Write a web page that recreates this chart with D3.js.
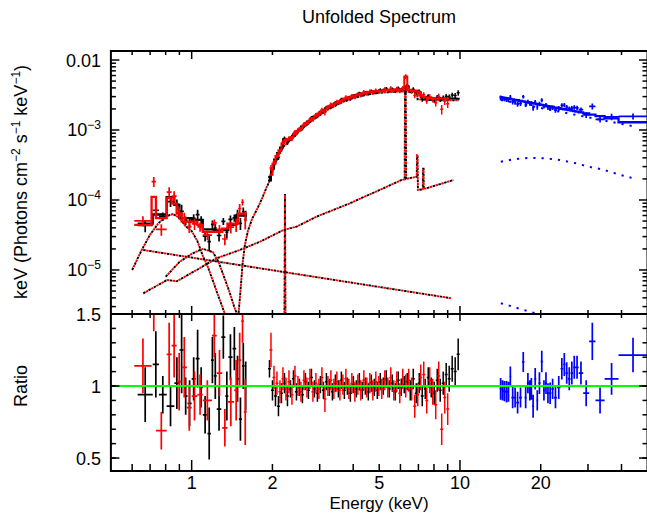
<!DOCTYPE html>
<html><head><meta charset="utf-8">
<script src="https://cdn.jsdelivr.net/npm/d3@7/dist/d3.min.js"></script>
<style>body{margin:0;background:#fff}svg{display:block}text{font-family:"Liberation Sans",Arial,Helvetica,sans-serif;fill:#000}</style>
</head><body><svg id="c" width="647" height="513"></svg>
<script>
// ---------------- DATA ----------------
const xDomain = [0.5, 50];
const yTopDomain = [2.35e-6, 1.345e-2];
const ratioDomain = [0.41, 1.5];

const xMajorTicks = [1, 10];
const xMinorTicks = [0.6,0.7,0.8,0.9,2,3,4,5,6,7,8,9,20,30,40];
const xTickLabels = [1, 2, 5, 10, 20];
const yTopLabelValues = [1e-2, 1e-3, 1e-4, 1e-5];
const ratioMinorTicks = [0.5,0.6,0.7,0.8,0.9,1.0,1.1,1.2,1.3,1.4,1.5];
const ratioLabelValues = [0.5, 1, 1.5];

// XMM black 2-10 keV bins
const blackHiE = [1.950,2.001,2.053,2.106,2.161,2.218,2.275,2.335,2.395,2.458,2.522,2.587,2.655,2.724,2.795,2.868,2.942,3.019,3.098,3.178,3.261,3.346,3.433,3.522,3.614,3.708,3.805,3.904,4.005,4.110,4.217,4.326,4.439,4.555,4.673,4.795,4.920,5.048,5.179,5.314,5.453,5.595,5.740,5.890,6.043,6.200,6.362,6.527,6.697,6.872,7.051,7.234,7.423,7.616,7.814,8.018,8.226,8.441,8.660,8.886,9.117,9.355,9.598,9.848];
const blackHiModel = [1.9e-4,2.8e-4,3.8e-4,4.7e-4,5.6e-4,7.4e-4,7.1e-4,7.6e-4,8.3e-4,9.3e-4,1.02e-3,1.12e-3,1.20e-3,1.32e-3,1.41e-3,1.55e-3,1.66e-3,1.78e-3,1.91e-3,2.04e-3,2.16e-3,2.29e-3,2.40e-3,2.51e-3,2.63e-3,2.75e-3,2.85e-3,2.95e-3,3.05e-3,3.16e-3,3.24e-3,3.31e-3,3.39e-3,3.47e-3,3.51e-3,3.55e-3,3.59e-3,3.63e-3,3.67e-3,3.72e-3,3.72e-3,3.76e-3,3.76e-3,3.80e-3,3.80e-3,3.80e-3,4.2e-3,3.72e-3,3.63e-3,3.63e-3,3.47e-3,2.95e-3,2.95e-3,2.88e-3,2.85e-3,2.82e-3,2.82e-3,2.82e-3,2.82e-3,2.82e-3,2.82e-3,2.82e-3,2.82e-3,2.79e-3];
const blackHiRatio = [1.12,0.97,0.93,0.86,0.95,1.02,0.93,0.98,1.05,0.96,0.99,0.94,1.03,0.97,1.06,0.98,0.95,1.01,0.97,1.03,0.99,0.96,1.02,0.98,1.04,0.97,1.00,0.95,1.01,0.98,1.03,0.97,1.00,0.96,1.02,0.99,0.97,1.03,1.00,1.05,0.98,1.02,0.96,1.04,0.99,1.01,1.03,0.97,1.05,0.95,1.02,0.93,0.98,1.06,0.99,0.95,1.04,0.97,1.02,1.08,1.05,1.12,1.10,1.22];
const blackHiErr = [0.06,0.07,0.07,0.07,0.07,0.07,0.07,0.06,0.06,0.06,0.06,0.06,0.06,0.06,0.06,0.06,0.06,0.06,0.06,0.06,0.06,0.06,0.06,0.06,0.06,0.06,0.06,0.06,0.06,0.06,0.06,0.06,0.06,0.06,0.06,0.06,0.06,0.06,0.06,0.06,0.06,0.06,0.06,0.06,0.06,0.06,0.06,0.07,0.07,0.07,0.07,0.07,0.07,0.07,0.07,0.08,0.08,0.08,0.08,0.08,0.09,0.09,0.10,0.11];

// XMM red 2-9 keV bins
const redHiE = [1.975,2.027,2.079,2.133,2.189,2.246,2.305,2.365,2.426,2.490,2.554,2.621,2.689,2.759,2.831,2.905,2.980,3.058,3.138,3.219,3.303,3.389,3.477,3.568,3.661,3.756,3.854,3.954,4.057,4.163,4.271,4.382,4.497,4.614,4.734,4.857,4.984,5.113,5.246,5.383,5.523,5.667,5.815,5.966,6.121,6.281,6.444,6.611,6.784,6.960,7.142,7.328,7.519,7.715,7.916,8.122,8.333,8.550,8.773,9.001];
const redHiModel = [2.3e-4,3.3e-4,4.25e-4,5.15e-4,6.4e-4,7.3e-4,7.35e-4,7.95e-4,8.8e-4,9.75e-4,1.07e-3,1.16e-3,1.26e-3,1.36e-3,1.48e-3,1.60e-3,1.72e-3,1.84e-3,1.97e-3,2.10e-3,2.22e-3,2.34e-3,2.45e-3,2.57e-3,2.69e-3,2.80e-3,2.90e-3,3.00e-3,3.10e-3,3.20e-3,3.27e-3,3.35e-3,3.43e-3,3.49e-3,3.53e-3,3.57e-3,3.61e-3,3.65e-3,3.69e-3,3.72e-3,3.74e-3,3.76e-3,3.78e-3,3.80e-3,3.80e-3,5.8e-3,3.74e-3,3.66e-3,3.63e-3,3.55e-3,3.10e-3,2.95e-3,2.92e-3,2.87e-3,2.84e-3,2.82e-3,2.82e-3,2.82e-3,2.82e-3,2.82e-3];
const redHiRatio = [1.25,1.06,1.02,0.96,1.05,0.98,1.03,0.94,1.07,1.00,0.96,1.04,0.99,1.05,0.96,1.02,0.98,1.06,0.91,1.00,1.04,0.98,1.03,0.97,1.01,1.05,0.98,1.02,0.96,1.01,0.97,1.04,0.99,1.02,0.97,1.03,1.00,0.98,1.04,0.99,1.06,0.97,1.03,0.95,1.05,1.00,1.04,0.98,0.86,0.94,1.06,1.08,0.90,1.04,0.96,0.87,1.07,0.70,0.92,0.84];
const redHiErr = [0.12,0.08,0.08,0.08,0.08,0.08,0.08,0.07,0.07,0.07,0.07,0.07,0.07,0.07,0.07,0.07,0.07,0.07,0.09,0.07,0.07,0.07,0.07,0.07,0.07,0.07,0.07,0.07,0.07,0.07,0.07,0.07,0.07,0.07,0.07,0.07,0.07,0.07,0.07,0.07,0.07,0.07,0.07,0.07,0.07,0.08,0.08,0.08,0.08,0.08,0.09,0.09,0.09,0.09,0.09,0.10,0.10,0.11,0.11,0.11];

// XMM soft band bins
const blackLoEdges = [0.629,0.716,0.755,0.807,0.862,0.90,0.935,0.965,1.0,1.035,1.07,1.10,1.145,1.18,1.21,1.24,1.29,1.335,1.37,1.42,1.465,1.50,1.54,1.575,1.605];
const blackLoModel = [4.6e-5,6.2e-5,6.2e-5,1.1e-4,8.5e-5,5.5e-5,5.5e-5,5.5e-5,5.2e-5,5.2e-5,5.2e-5,3.8e-5,3.8e-5,3.8e-5,3.7e-5,3.7e-5,3.7e-5,3.7e-5,4.4e-5,4.4e-5,6.0e-5,6.0e-5,6.0e-5,6.0e-5];
const blackLoRatio = [0.94,1.15,0.94,0.86,1.02,1.25,0.93,0.88,1.05,1.19,0.99,0.80,0.67,1.18,1.07,0.84,1.34,0.93,1.20,1.26,1.05,0.77,1.14,1.00];
const blackLoErr = [0.19,0.23,0.13,0.14,0.18,0.30,0.13,0.16,0.15,0.20,0.14,0.13,0.18,0.16,0.16,0.15,0.15,0.17,0.16,0.15,0.16,0.15,0.16,0.17];
const redLoEdges = [0.611,0.709,0.736,0.807,0.842,0.879,0.918,0.96,1.0,1.05,1.10,1.19,1.24,1.30,1.36,1.44,1.49,1.53,1.565,1.603];
const redLoModel = [4.4e-5,1.11e-4,5.5e-5,1.06e-4,8.9e-5,6.4e-5,4.9e-5,4.9e-5,4.9e-5,4.4e-5,3.5e-5,3.5e-5,3.5e-5,3.9e-5,4.6e-5,4.6e-5,6.4e-5,6.4e-5,6.4e-5];
const redLoRatio = [1.14,1.65,0.69,1.22,1.28,1.03,1.13,0.85,0.93,0.94,0.90,1.35,1.09,0.71,0.89,0.97,1.18,1.45,0.82];
const redLoErr = [0.19,0.27,0.13,0.22,0.22,0.20,0.21,0.16,0.17,0.14,0.14,0.15,0.16,0.13,0.17,0.21,0.19,0.15,0.23];

// Hard X-ray (blue) bins
const blueEdges = [14.05,14.3,14.53,14.78,15.06,15.28,15.54,15.9,16.2,16.6,17.03,17.4,17.75,18.08,18.34,18.57,18.9,19.25,19.58,19.98,20.38,20.74,21.1,21.46,21.9,22.4,23.0,23.7,24.24,24.73,25.26,25.84,26.4,26.94,27.7,28.8,30.3,32.0,34.6,39.0,50.0];
const blueModel = [2.95e-3,2.91e-3,2.88e-3,2.84e-3,2.81e-3,2.79e-3,2.74e-3,2.69e-3,2.66e-3,2.60e-3,2.56e-3,2.52e-3,2.49e-3,2.46e-3,2.44e-3,2.41e-3,2.38e-3,2.35e-3,2.32e-3,2.28e-3,2.25e-3,2.22e-3,2.19e-3,2.17e-3,2.13e-3,2.09e-3,2.05e-3,2.01e-3,1.98e-3,1.95e-3,1.92e-3,1.89e-3,1.86e-3,1.83e-3,1.79e-3,1.73e-3,1.66e-3,1.58e-3,1.47e-3,1.29e-3];
const blueRatio = [0.98,0.97,0.965,0.96,0.96,1.065,0.92,0.92,0.885,0.92,1.167,0.92,1.02,0.97,0.98,0.86,1.05,0.90,1.02,1.17,0.97,1.02,0.95,0.95,0.98,0.92,0.99,1.12,1.15,1.09,1.05,1.09,1.13,1.13,1.09,0.95,1.31,0.90,1.05,1.215];
const blueErr = [0.075,0.07,0.07,0.075,0.07,0.07,0.075,0.07,0.075,0.07,0.07,0.075,0.07,0.07,0.075,0.08,0.075,0.07,0.075,0.075,0.07,0.075,0.07,0.075,0.07,0.075,0.08,0.075,0.08,0.075,0.08,0.08,0.08,0.08,0.08,0.09,0.13,0.09,0.11,0.12];

// Model components [E keV, value]
const compScatter = [[0.66,1.93e-5],[9.3,3.94e-6]];
const compRefl = [[0.66,4.64e-6],[0.81,7.2e-6],[0.88,6.9e-6],[1.044,1.0e-5],[1.24,1.47e-5],[1.51,1.93e-5],[1.80,2.54e-5],[2.20,3.73e-5],[2.46,4.16e-5],[2.92,5.78e-5],[3.89,8.97e-5],[5.18,1.47e-4],[6.06,1.93e-4],[6.22,1.96e-4],[6.24,3.6e-3],[6.28,3.6e-3],[6.30,2.0e-4],[6.90,2.15e-4],[6.92,4.4e-4],[6.95,4.4e-4],[6.97,1.39e-4],[7.27,1.42e-4],[7.28,2.8e-4],[7.32,2.8e-4],[7.33,1.45e-4],[7.5,1.47e-4],[9.45,1.93e-4]];
const compAbsPL = [[1.49,2.0e-6],[1.52,5e-6],[1.55,1.3e-5],[1.58,2.3e-5],[1.62,3.6e-5],[1.68,5.4e-5],[1.75,7.3e-5],[1.82,1.0e-4],[1.9,1.5e-4],[1.95,1.85e-4],[2.0,2.55e-4],[2.05,3.4e-4],[2.1,4.3e-4],[2.2,5.8e-4],[2.35,7.3e-4],[2.5,9.4e-4],[2.8,1.35e-3],[3.2,1.92e-3],[3.6,2.45e-3],[4.0,2.85e-3],[4.5,3.2e-3],[5.0,3.4e-3],[6.0,3.55e-3],[6.9,3.45e-3],[6.95,2.75e-3],[8.0,2.65e-3],[9.9,2.65e-3]];
const compLine22 = [[2.215,1e-6],[2.227,1.22e-4],[2.239,1e-6]];
const compTherm1 = [[0.60,1.0e-5],[0.65,1.9e-5],[0.70,3.2e-5],[0.75,4.6e-5],[0.80,5.8e-5],[0.85,6.3e-5],[0.90,5.6e-5],[0.95,4.2e-5],[1.00,3.6e-5],[1.05,2.6e-5],[1.10,1.6e-5],[1.15,1.1e-5],[1.20,7e-6],[1.25,4.5e-6],[1.30,3.0e-6],[1.35,2.0e-6]];
const compTherm2 = [[0.80,8e-6],[0.90,1.3e-5],[1.0,1.7e-5],[1.1,2.0e-5],[1.2,1.8e-5],[1.26,1.3e-5],[1.32,8e-6],[1.38,5e-6],[1.44,3e-6],[1.50,2e-6]];
const blueCompPL = [[14.2,2.68e-3],[44.3,1.13e-3]];
const blueCompRefl = [[14.2,3.52e-4],[15.36,3.73e-4],[16.5,3.89e-4],[17.8,3.98e-4],[19.1,3.98e-4],[20.4,3.94e-4],[21.9,3.85e-4],[23.6,3.73e-4],[25.4,3.52e-4],[27.2,3.33e-4],[29.2,3.09e-4],[31.3,2.9e-4],[33.7,2.75e-4],[36.1,2.54e-4],[38.9,2.33e-4],[41.8,2.16e-4],[44.3,2.04e-4]];
const blueCompScatter = [[14.2,3.35e-6],[22,2.05e-6]];

// ---------------- LAYOUT ----------------
const L = 110.9, R = 647.5, T1 = 51, B1 = 314, B2 = 471;
const svg = d3.select('#c');
const x = d3.scaleLog().domain(xDomain).range([L, R]);
const yT = d3.scaleLog().domain(yTopDomain).range([B1, T1]);
const yR = d3.scaleLinear().domain(ratioDomain).range([B2, B1]);

const defs = svg.append('defs');
defs.append('clipPath').attr('id','clipTop').append('rect').attr('x',L).attr('y',T1).attr('width',R-L).attr('height',B1-T1);
defs.append('clipPath').attr('id','clipRat').append('rect').attr('x',L).attr('y',B1).attr('width',R-L).attr('height',B2-B1);
const gTop = svg.append('g').attr('clip-path','url(#clipTop)');
const gRat = svg.append('g').attr('clip-path','url(#clipRat)');

const RED = '#ff0000', BLUE = '#0000ff', BLACK = '#000000', GREEN = '#00ff00';

function edgesFrom(c){
  const n=c.length, e=[c[0]*c[0]/Math.sqrt(c[0]*c[1])];
  for(let i=1;i<n;i++) e.push(Math.sqrt(c[i-1]*c[i]));
  e.push(c[n-1]*c[n-1]/Math.sqrt(c[n-2]*c[n-1]));
  return e;
}
const lineT = d3.line().x(d=>x(d[0])).y(d=>yT(d[1]));

function comp(data, color, dash, offset, w){
  gTop.append('path').attr('d', lineT(data)).attr('fill','none').attr('stroke',color)
    .attr('stroke-width', w).attr('stroke-dasharray', dash).attr('stroke-dashoffset', offset);
}
function dataSet(edges, model, ratio, err, color, w){
  let pt='', pr='';
  for(let i=0;i<model.length;i++){
    const xl=x(edges[i]), xr=x(edges[i+1]), xc=x(Math.sqrt(edges[i]*edges[i+1]));
    const m=model[i], r=ratio[i], e=err[i];
    pt += `M${xc},${yT(m*(r+e))}V${yT(m*Math.max(r-e,0.02))}M${xl},${yT(m*r)}H${xr}`;
    pr += `M${xc},${yR(r+e)}V${yR(r-e)}M${xl},${yR(r)}H${xr}`;
  }
  gTop.append('path').attr('d',pt).attr('fill','none').attr('stroke',color).attr('stroke-width',w);
  gRat.append('path').attr('d',pr).attr('fill','none').attr('stroke',color).attr('stroke-width',w);
}
function stepModel(edges, model, color, w){
  let p='';
  for(let i=0;i<model.length;i++){
    p += (i===0?'M':'L') + x(edges[i]) + ',' + yT(model[i]) + 'H' + x(edges[i+1]);
  }
  gTop.append('path').attr('d',p).attr('fill','none').attr('stroke',color).attr('stroke-width',w);
}

// components (black + red overlapped dotted)
[compScatter, compRefl, compAbsPL, compLine22, compTherm1, compTherm2].forEach(c=>{
  comp(c, BLACK, '2.5,3.5', 0, 1.9);
  comp(c, RED, '2.5,3.5', 3, 1.9);
});
[blueCompPL, blueCompRefl, blueCompScatter].forEach(c=>comp(c, BLUE, '2.2,6', 0, 2));

// data
const blackHiEdges = edgesFrom(blackHiE);
const redHiEdges = edgesFrom(redHiE);
dataSet(blackLoEdges, blackLoModel, blackLoRatio, blackLoErr, BLACK, 1.7);
dataSet(blackHiEdges, blackHiModel, blackHiRatio, blackHiErr, BLACK, 1.5);
stepModel(blackLoEdges, blackLoModel, BLACK, 2.3);
stepModel(blackHiEdges, blackHiModel, BLACK, 2);
dataSet(redLoEdges, redLoModel, redLoRatio, redLoErr, RED, 1.7);
dataSet(redHiEdges, redHiModel, redHiRatio, redHiErr, RED, 1.5);
stepModel(redLoEdges, redLoModel, RED, 2.3);
stepModel(redHiEdges, redHiModel, RED, 2);
dataSet(blueEdges, blueModel, blueRatio, blueErr, BLUE, 1.7);
stepModel(blueEdges, blueModel, BLUE, 2.3);

// unity line
gRat.append('line').attr('x1',L).attr('x2',R).attr('y1',yR(1)).attr('y2',yR(1))
  .attr('stroke',GREEN).attr('stroke-width',2);

// ---------------- AXES ----------------
const ax = svg.append('g').attr('stroke',BLACK).attr('fill','none');
ax.append('rect').attr('x',L).attr('y',T1).attr('width',R-L).attr('height',B2-T1).attr('stroke-width',2);
ax.append('line').attr('x1',L).attr('x2',R).attr('y1',B1).attr('y2',B1).attr('stroke-width',2);

function xTicks(yPos, dir, minorLen, majorLen){
  xMinorTicks.forEach(v=>ax.append('line').attr('x1',x(v)).attr('x2',x(v)).attr('y1',yPos).attr('y2',yPos+dir*minorLen).attr('stroke-width',1.5));
  xMajorTicks.forEach(v=>ax.append('line').attr('x1',x(v)).attr('x2',x(v)).attr('y1',yPos).attr('y2',yPos+dir*majorLen).attr('stroke-width',1.5));
}
xTicks(T1, 1, 4, 8);
xTicks(B1, -1, 4, 8);
xTicks(B1, 1, 4, 7);
xTicks(B2, -1, 7, 11);

const yMinor = [];
for(let d=-6; d<=-2; d++) for(let m=2;m<=9;m++){ const v=m*Math.pow(10,d); if(v>yTopDomain[0] && v<yTopDomain[1]) yMinor.push(v); }
[[L,1],[R,-1]].forEach(([xp,dir])=>{
  yMinor.forEach(v=>ax.append('line').attr('x1',xp).attr('x2',xp+dir*5).attr('y1',yT(v)).attr('y2',yT(v)).attr('stroke-width',1.5));
  yTopLabelValues.forEach(v=>ax.append('line').attr('x1',xp).attr('x2',xp+dir*8.5).attr('y1',yT(v)).attr('y2',yT(v)).attr('stroke-width',1.5));
  ratioMinorTicks.forEach(v=>ax.append('line').attr('x1',xp).attr('x2',xp+dir*5).attr('y1',yR(v)).attr('y2',yR(v)).attr('stroke-width',1.5));
  ratioLabelValues.forEach(v=>ax.append('line').attr('x1',xp).attr('x2',xp+dir*8.5).attr('y1',yR(v)).attr('y2',yR(v)).attr('stroke-width',1.5));
});

// ---------------- TEXT ----------------
const FS = 18;
xTickLabels.forEach(v=>svg.append('text').attr('x',x(v)).attr('y',488.5).attr('text-anchor','middle')
  .attr('font-size',FS).text(v));
yTopLabelValues.forEach(v=>{
  const t = svg.append('text').attr('x',101).attr('y',yT(v)+6.5).attr('text-anchor','end').attr('font-size',FS);
  if(v===1e-2){ t.text('0.01'); }
  else { t.append('tspan').text('10'); t.append('tspan').attr('dy',-7).attr('font-size',12).text('\u2212'+Math.round(-Math.log10(v))); }
});
ratioLabelValues.forEach(v=>svg.append('text').attr('x',101).attr('y',yR(v)+6.5).attr('text-anchor','end')
  .attr('font-size',FS).text(v===1?'1':String(v)));

svg.append('text').attr('x',379).attr('y',23).attr('text-anchor','middle').attr('font-size',18).text('Unfolded Spectrum');
svg.append('text').attr('x',379).attr('y',509).attr('text-anchor','middle').attr('font-size',17).text('Energy (keV)');
svg.append('text').attr('transform','translate(27,386) rotate(-90)').attr('text-anchor','middle').attr('font-size',FS).text('Ratio');
const yl = svg.append('text').attr('transform','translate(27,182) rotate(-90)').attr('text-anchor','middle').attr('font-size',FS);
yl.append('tspan').text('keV (Photons cm');
yl.append('tspan').attr('dy',-7).attr('font-size',12).text('\u22122');
yl.append('tspan').attr('dy',7).text(' s');
yl.append('tspan').attr('dy',-7).attr('font-size',12).text('\u22121');
yl.append('tspan').attr('dy',7).text(' keV');
yl.append('tspan').attr('dy',-7).attr('font-size',12).text('\u22121');
yl.append('tspan').attr('dy',7).text(')');
</script></body></html>
